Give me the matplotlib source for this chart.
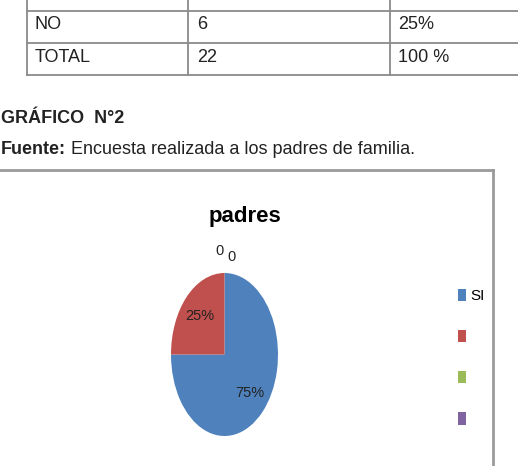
import numpy as np
import matplotlib
matplotlib.use('Agg')
import matplotlib.pyplot as plt
from matplotlib.lines import Line2D

# %%
table_rows = [['NO', '6', '25%'], ['TOTAL', '22', '100 %']]
heading = 'GRÁFICO  N°2'
source_bold = 'Fuente:'
source_text = ' Encuesta realizada a los padres de familia.'

chart_title = 'padres'
categories = ['SI', '', '', '']
values = [75, 25, 0, 0]
colors = ['#4F81BD', '#C0504D', '#9BBB59', '#8064A2']

W, H = 518, 466
doc_font = ['Liberation Sans', 'DejaVu Sans']
chart_font = ['Liberation Sans', 'DejaVu Sans']

# %%
fig = plt.figure(figsize=(W / 100, H / 100), dpi=100)
fig.patch.set_facecolor('white')


def px(x, y):
    return x / W, 1 - y / H


def fline(x0, y0, x1, y1, color='#8a8a8a', lw=1.3):
    a, b = px(x0, y0)
    c, d = px(x1, y1)
    fig.add_artist(Line2D([a, c], [b, d], color=color, lw=lw,
                          transform=fig.transFigure))


# table
for y in [11, 43, 75]:
    fline(27, y, W, y)
for x in [27, 188, 390]:
    fline(x, 0, x, 75)
col_x = [35, 197, 398]
row_base = [29, 62]
for row, yb in zip(table_rows, row_base):
    for cell, xc in zip(row, col_x):
        fig.text(*px(xc, yb), cell, fontsize=13, family=doc_font,
                 va='baseline', ha='left', color='#222222')

fig.text(*px(1, 123), heading, fontsize=13, family=doc_font,
         weight='bold', va='baseline', color='#222222')
t = fig.text(*px(1, 154), source_bold, fontsize=13, family=doc_font,
             weight='bold', va='baseline', color='#222222')
fig.canvas.draw()
bb = t.get_window_extent()
fig.text(bb.x1 / W, 1 - 154 / H, source_text, fontsize=13, family=doc_font,
         va='baseline', color='#222222')

# chart box
fline(-5, 170, 493, 170, color='#9a9a9a', lw=2)
fline(493, 170, 493, H + 5, color='#9a9a9a', lw=2)

fig.text(*px(245, 222), chart_title, fontsize=16, family=chart_font,
         weight='bold', ha='center', va='baseline', color='black')

# %%
ax = fig.add_axes([171 / W, 30 / H, 107 / W, 163 / H])
wedges, texts, autotexts = ax.pie(
    values, colors=colors, startangle=90, counterclock=False,
    labels=['', '', '0', '0'], labeldistance=1.22,
    autopct=lambda p: f'{p:.0f}%' if p > 0 else '', pctdistance=0.66,
    wedgeprops=dict(linewidth=0),
    textprops=dict(fontsize=10.5, family=chart_font, color='#222222'))
ax.set_aspect('auto')
ax.set_xlim(-1, 1)
ax.set_ylim(-1, 1)
texts[2].set_position((-0.1, 1.27))
texts[3].set_position((0.14, 1.2))
for tx in texts:
    tx.set_ha('center')

leg = ax.legend(wedges, categories, loc='upper left',
                bbox_to_anchor=(458 / W, 1 - 289 / H),
                bbox_transform=fig.transFigure, frameon=False,
                prop=dict(family=chart_font, size=11),
                handlelength=0.55, handleheight=0.85, handletextpad=0.25,
                labelspacing=1.75, borderpad=0, borderaxespad=0)

fig.savefig('out.png', dpi=100, facecolor='white')
